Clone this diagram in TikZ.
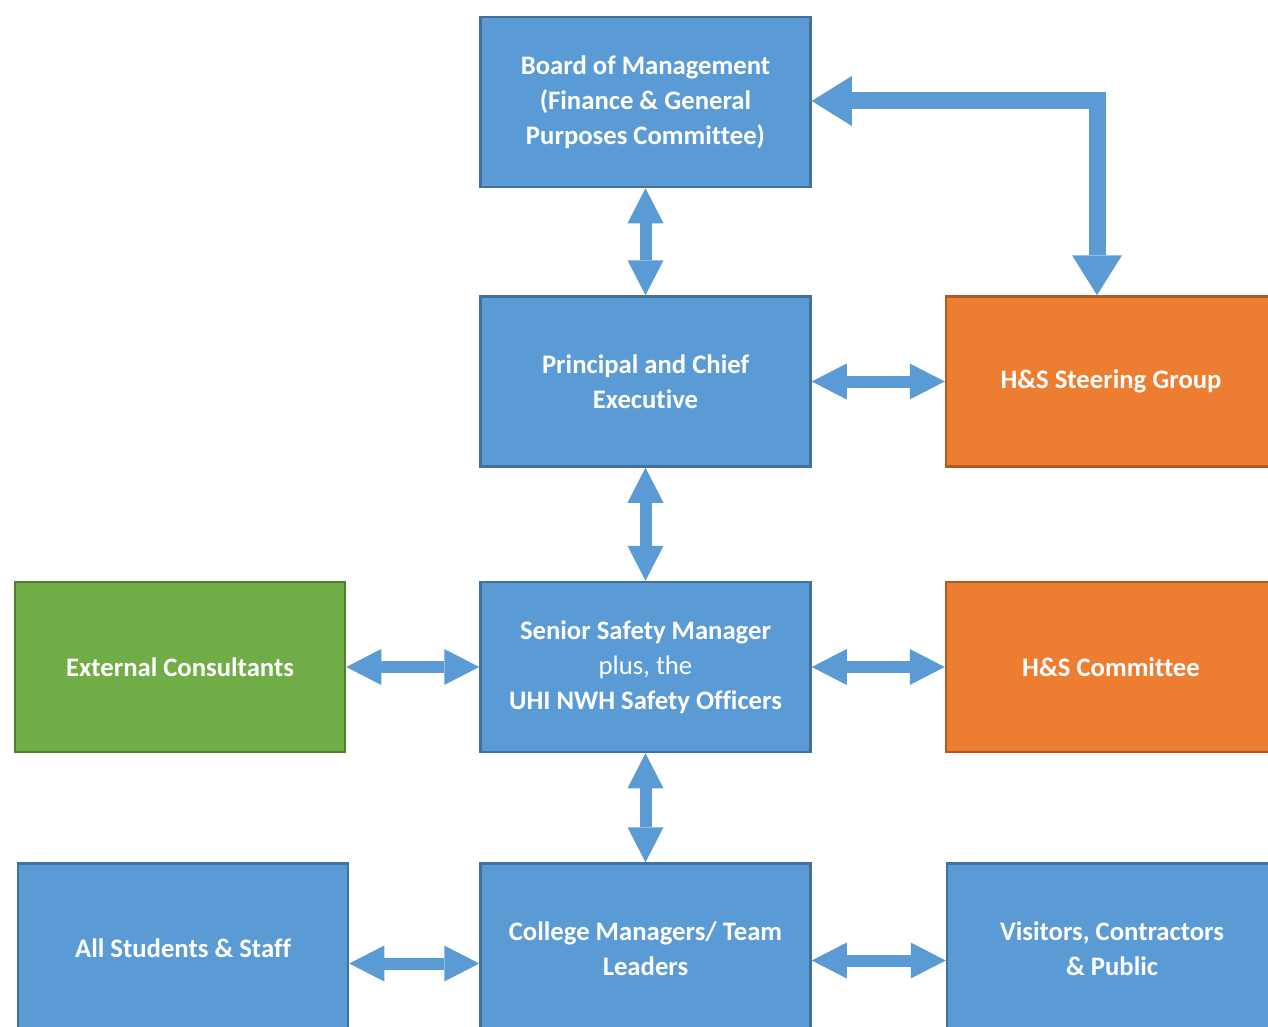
\documentclass[tikz,border=0pt]{standalone}
\usepackage{fontspec}
\setmainfont{Carlito}[Ligatures=NoCommon]
\usetikzlibrary{positioning,arrows.meta}
\definecolor{boxblue}{HTML}{5B9BD5}
\definecolor{lineblue}{HTML}{41719C}
\definecolor{boxorange}{HTML}{ED7D31}
\definecolor{lineorange}{HTML}{AE5A21}
\definecolor{boxgreen}{HTML}{70AD47}
\definecolor{linegreen}{HTML}{507E32}
\begin{document}
\begin{tikzpicture}[x=1pt,y=-1pt,node distance=107pt and 133pt]

        % 定义样式
        \tikzstyle{unit} = [rectangle, minimum width=330pt, minimum height=170pt, align=center, line width=2.5pt, text=white, font=\fontsize{26.7}{35}\selectfont\bfseries]
        \tikzstyle{bluebox} = [unit, draw=lineblue, fill=boxblue]
        \tikzstyle{orangebox} = [unit, draw=lineorange, fill=boxorange]
        \tikzstyle{greenbox} = [unit, draw=linegreen, fill=boxgreen]
        \tikzstyle{linkarrow} = [draw=boxblue, line width=12pt, {Triangle[length=35pt,width=36pt,line width=0pt]}-{Triangle[length=35pt,width=36pt,line width=0pt]}]
        \tikzstyle{longarrow} = [draw=boxblue, line width=17pt, line join=miter, {Triangle[length=40pt,width=50pt,line width=0pt]}-{Triangle[length=40pt,width=50pt,line width=0pt]}]

        \useasboundingbox (0,0) rectangle (1268,1027);
        \clip (0,0) rectangle (1268,1027);

        % 创建节点
        \node (board) [bluebox] at (645.5,102) {Board of Management\\(Finance \& General\\Purposes Committee)};
        \node (principal) [bluebox, below=of board] {Principal and Chief\\Executive};
        \node (steering) [orangebox, right=of principal] {H\&S Steering Group};
        \node (senior) [bluebox, below=113pt of principal] {Senior Safety Manager\\{\mdseries plus, the}\\UHI NWH Safety Officers};
        \node (external) [greenbox, left=of senior] {External Consultants};
        \node (committee) [orangebox, right=of senior] {H\&S Committee};
        \node (college) [bluebox, below=109pt of senior] {College Managers/ Team\\Leaders};
        \node (students) [bluebox, left=130pt of college] {All Students \& Staff};
        \node (visitors) [bluebox, right=134pt of college] {Visitors, Contractors\\\& Public};

        % 连接节点
        \draw [longarrow] ([yshift=1pt]board.east) -| ([xshift=-14pt]steering.north);
        \draw [linkarrow] (board.south) -- (principal.north);
        \draw [linkarrow] (principal.east) -- (steering.west);
        \draw [linkarrow] (principal.south) -- (senior.north);
        \draw [linkarrow] (external.east) -- (senior.west);
        \draw [linkarrow] (senior.east) -- (committee.west);
        \draw [linkarrow] (senior.south) -- (college.north);
        \draw [linkarrow] ([yshift=-15pt]students.east) -- ([yshift=-15pt]college.west);
        \draw [linkarrow] ([yshift=-12pt]college.east) -- ([yshift=-12pt]visitors.west);

\end{tikzpicture}
\end{document}
